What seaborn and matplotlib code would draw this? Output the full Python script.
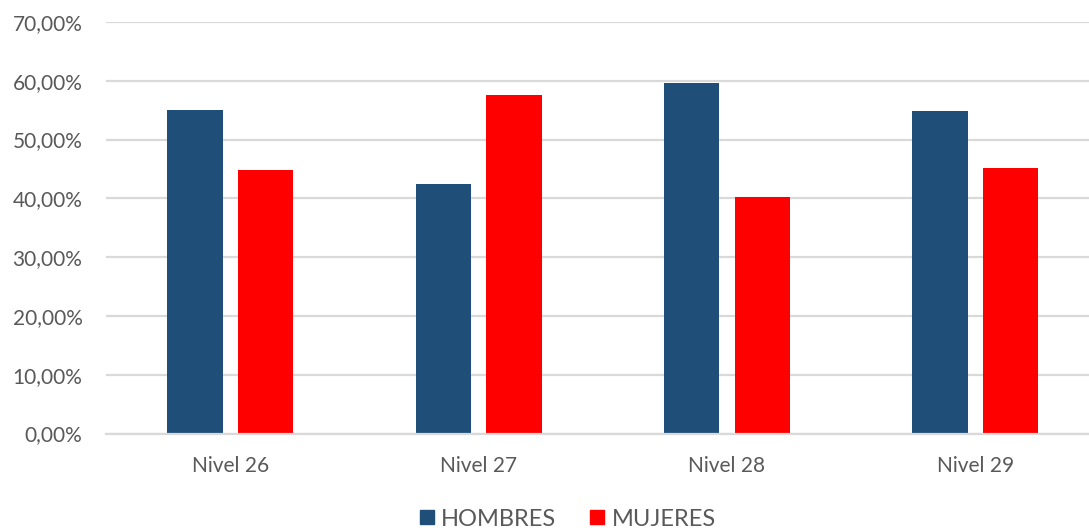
import matplotlib
matplotlib.use("Agg")
import matplotlib.pyplot as plt
from matplotlib.lines import Line2D
from matplotlib.ticker import FuncFormatter, MultipleLocator
import pandas as pd
import seaborn as sns

# Share of staff by sex at each level (percent)
niveles = ["Nivel 26", "Nivel 27", "Nivel 28", "Nivel 29"]
hombres = [55.1, 42.5, 59.7, 54.9]
mujeres = [44.9, 57.5, 40.3, 45.1]
series = ["HOMBRES", "MUJERES"]
colores = ["#1F4E79", "#FF0000"]

df = pd.DataFrame({
    "nivel": niveles * 2,
    "sexo": [series[0]] * len(niveles) + [series[1]] * len(niveles),
    "valor": hombres + mujeres,
})

sns.set_theme(style="white")
plt.rcParams["font.family"] = ["Lato", "DejaVu Sans"]
texto = "#595959"
rejilla = "#D9D9D9"

fig = plt.figure(figsize=(10.89, 5.31), dpi=100)
ax = fig.add_axes([106 / 1089, 97.5 / 531, 993.6 / 1089, 411.5 / 531])

sns.barplot(
    data=df, x="nivel", y="valor", hue="sexo",
    order=niveles, hue_order=series, palette=colores,
    width=0.569, gap=0.215, legend=False, ax=ax,
    saturation=1, edgecolor="none", zorder=3,
)

ax.set_ylim(0, 70)
ax.set_xlim(-0.5, len(niveles) - 0.5)
ax.yaxis.set_major_locator(MultipleLocator(10))
ax.yaxis.set_major_formatter(FuncFormatter(lambda v, _: f"{v:.2f}%".replace(".", ",")))
ax.grid(axis="y", color=rejilla, linewidth=1.6, zorder=0)
ax.set_axisbelow(True)

for s in ["top", "right", "left"]:
    ax.spines[s].set_visible(False)
ax.spines["bottom"].set_color(rejilla)
ax.spines["bottom"].set_linewidth(1.6)
ax.spines["bottom"].set_zorder(4)

ax.set_xlabel("")
ax.set_ylabel("")
ax.tick_params(axis="both", length=0, labelsize=15, labelcolor=texto)
ax.tick_params(axis="y", pad=17)
ax.tick_params(axis="x", pad=16)

handles = [
    Line2D([0], [0], marker="s", linestyle="none", markersize=10.5,
           markerfacecolor=c, markeredgecolor=c, label=l)
    for c, l in zip(colores, series)
]
fig.legend(
    handles=handles, loc="center", bbox_to_anchor=(566 / 1089, 1 - 519 / 531),
    ncol=2, frameon=False, fontsize=17, labelcolor=texto,
    handletextpad=0.15, columnspacing=1.3, handlelength=0.9,
)

fig.savefig("out.png", dpi=100, facecolor="white")
